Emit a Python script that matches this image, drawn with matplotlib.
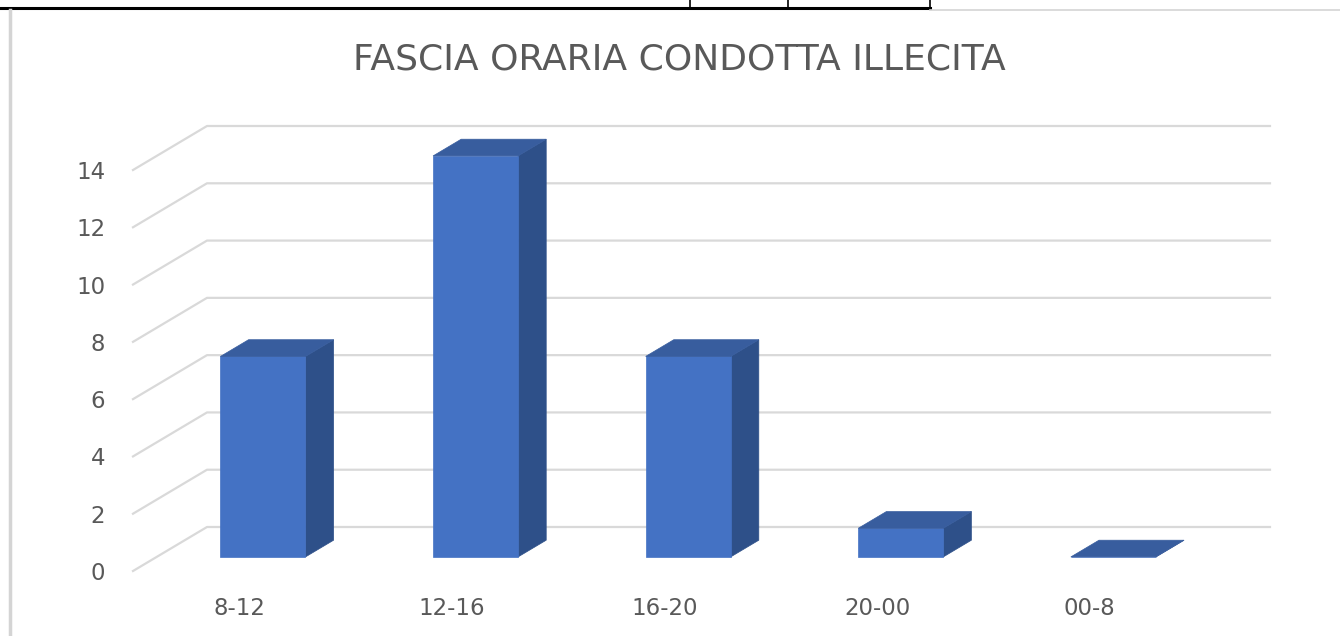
import numpy as np
import matplotlib.pyplot as plt
from matplotlib.patches import Polygon
from matplotlib.lines import Line2D

# data
categories = ['8-12', '12-16', '16-20', '20-00', '00-8']
values = [7, 14, 7, 1, 0]
yticks = [0, 2, 4, 6, 8, 10, 12, 14]

# fake 3D geometry (category / value units)
DX = 0.348      # depth of the back wall along x
DY = 1.536      # depth of the back wall along y
D0, D1 = 0.32, 0.70   # bar depth span as fraction of wall depth
HALF_W = 0.2

FRONT = '#4472C4'
SIDE = '#2E5089'
TOP = '#385D9E'
GRID = '#D9D9D9'
TEXT = '#595959'

W, H = 1340, 636
fig = plt.figure(figsize=(W / 100, H / 100), dpi=100)
ax = fig.add_axes([133 / W, (H - 571) / H, 1063 / W, 401 / H])
ax.set_xlim(-0.5, len(categories) - 0.5)
ax.set_ylim(0, 14)
for s in ax.spines.values():
    s.set_visible(False)
ax.patch.set_alpha(0)


def p(x, y, d):
    return (x + d * DX, y + d * DY)


# gridlines: diagonal on the left side wall + horizontal on the back wall
x0, x1 = -0.5, len(categories) - 0.5
for v in yticks:
    xs = [x0, x0 + DX, x1 + DX]
    ys = [v, v + DY, v + DY]
    ax.plot(xs, ys, color=GRID, lw=1.6, clip_on=False, zorder=1)

# bars
for i, v in enumerate(values):
    l, r = i - HALF_W, i + HALF_W
    front = [p(l, 0, D0), p(r, 0, D0), p(r, v, D0), p(l, v, D0)]
    side = [p(r, 0, D0), p(r, 0, D1), p(r, v, D1), p(r, v, D0)]
    top = [p(l, v, D0), p(r, v, D0), p(r, v, D1), p(l, v, D1)]
    for poly, c in [(side, SIDE), (front, FRONT), (top, TOP)]:
        ax.add_patch(Polygon(poly, closed=True, facecolor=c, edgecolor=c,
                             lw=0.5, clip_on=False, zorder=3))

ax.set_xticks(range(len(categories)))
ax.set_xticklabels(categories)
ax.set_yticks(yticks)
ax.tick_params(axis='both', length=0, labelsize=16.5, colors=TEXT)
ax.tick_params(axis='y', pad=20)
ax.tick_params(axis='x', pad=19)

fig.text(679 / W, 1 - 59 / H, 'FASCIA ORARIA CONDOTTA ILLECITA',
         ha='center', va='center', fontsize=26, color=TEXT)

# surrounding spreadsheet borders
fig.add_artist(Line2D([0, 930 / W], [1 - 8 / H, 1 - 8 / H], color='black', lw=2.2))
for xv in [690, 788, 930]:
    fig.add_artist(Line2D([xv / W, xv / W], [1 - 8 / H, 1], color='black', lw=1.2))
fig.add_artist(Line2D([930 / W, 1], [1 - 10 / H, 1 - 10 / H], color='#D4D4D4', lw=1.2))
fig.add_artist(Line2D([10 / W, 10 / W], [0, 1 - 10 / H], color='#D4D4D4', lw=2.5))

fig.savefig('out.png', dpi=100)
